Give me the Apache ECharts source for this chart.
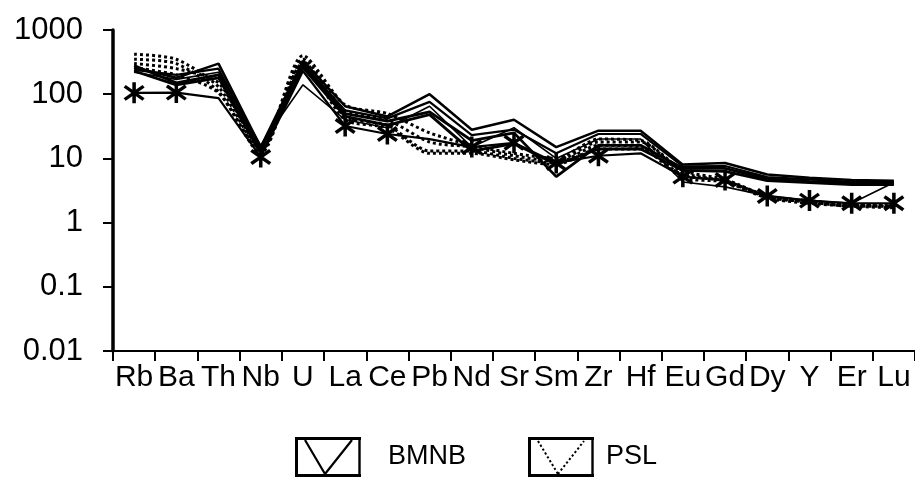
<!DOCTYPE html>
<html>
<head>
<meta charset="utf-8">
<script src="https://cdn.jsdelivr.net/npm/echarts@6.0.0/dist/echarts.min.js"></script>
<style>
  html, body { margin: 0; padding: 0; background: #fff; }
  #chart { width: 915px; height: 477px; }
</style>
</head>
<body>
<div id="chart"></div>
<script>
// 元素（横轴）
var elements = ['Rb', 'Ba', 'Th', 'Nb', 'U', 'La', 'Ce', 'Pb', 'Nd', 'Sr', 'Sm', 'Zr', 'Hf', 'Eu', 'Gd', 'Dy', 'Y', 'Er', 'Lu'];
var yTickLabels = ['0.01', '0.1', '1', '10', '100', '1000'];

// BMNB 样品（实线）
var bmnb1 = [260, 180, 300, 15, 330, 65, 45, 100, 28, 40, 15, 27, 27, 8, 8.5, 5.6, 5, 4.6, 4.5];
var bmnb2 = [240, 200, 250, 14, 300, 56, 42, 76, 23, 28, 12, 24, 24, 7.5, 7.6, 5.1, 4.7, 4.3, 4.3];
var bmnb3 = [280, 150, 200, 13, 280, 50, 38, 53, 19, 25, 5.2, 16, 16, 7, 7, 4.8, 4.4, 4.1, 4.1];
var bmnb4 = [230, 140, 180, 12, 260, 45, 33, 48, 13, 17, 8, 14, 14, 6.5, 6.3, 4.5, 4.2, 3.9, 3.9];
var bmnb5 = [220, 170, 220, 16, 140, 40, 30, 65, 15, 30, 10, 20, 20, 4.3, 3.6, 2.6, 2.2, 2.0, 4.2];

// PSL 样品（虚线）
var psl1 = [420, 350, 130, 14, 400, 68, 50, 25, 16, 12, 10, 20, 19, 6.5, 4.7, 2.6, 2.2, 1.9, 1.9];
var psl2 = [350, 300, 110, 13, 350, 55, 40, 18, 15, 11, 9, 18, 18, 6, 4.4, 2.5, 2.1, 1.9, 1.8];
var psl3 = [300, 250, 150, 15, 320, 45, 33, 13, 13, 10, 8.5, 16, 15, 5.5, 4.5, 2.5, 2.1, 1.8, 1.8];
var psl4 = [260, 200, 105, 12, 300, 40, 30, 12, 12, 9.5, 8, 14, 14, 5, 4.3, 2.4, 2.0, 1.8, 1.7];

// 参考曲线（星号）
var starLine = [105, 106, 87, 10.5, 230, 32, 24, 20, 15, 17.5, 8.5, 11, 12, 5.2, 4.6, 2.6, 2.2, 2.0, 2.0];
var starHidden = ['Th', 'U', 'Pb', 'Hf'];

// 线段 -> 多边形
function seg(x1, y1, x2, y2, t) {
    var dx = x2 - x1, dy = y2 - y1;
    var len = Math.sqrt(dx * dx + dy * dy);
    var nx = -dy / len * t / 2, ny = dx / len * t / 2;
    var p = [[x1 + nx, y1 + ny], [x2 + nx, y2 + ny], [x2 - nx, y2 - ny], [x1 - nx, y1 - ny]];
    return 'M' + p.map(function (q) { return q[0].toFixed(2) + ' ' + q[1].toFixed(2); }).join(' L') + ' Z ';
}

function starPath() {
    var s = '';
    s += seg(10, 0.5, 10, 19.5, 3);
    s += seg(2, 4, 18, 16, 3);
    s += seg(18, 4, 2, 16, 3);
    return 'path://' + s;
}

function dottedSeg(x1, y1, x2, y2) {
    var s = '';
    var dx = x2 - x1, dy = y2 - y1;
    var len = Math.sqrt(dx * dx + dy * dy);
    for (var d = 0; d < len - 1; d += 4.5) {
        var a = d / len, b = Math.min(d + 2.2, len) / len;
        s += seg(x1 + dx * a, y1 + dy * a, x1 + dx * b, y1 + dy * b, 2);
    }
    return s;
}

function boxIcon(dotted) {
    var s = '';
    s += seg(0, 1.5, 66, 1.5, 3);
    s += seg(0, 38.5, 66, 38.5, 3);
    s += seg(1.5, 0, 1.5, 40, 3);
    s += seg(64.5, 0, 64.5, 40, 2.4);
    if (dotted) {
        s += dottedSeg(10, 4, 30, 37);
        s += dottedSeg(30, 37, 56, 4);
    } else {
        s += seg(10, 3, 30, 37, 2.2);
        s += seg(30, 37, 57, 3, 2.2);
    }
    return 'path://' + s;
}

var solidSets = [bmnb1, bmnb2, bmnb3, bmnb4, bmnb5];
var solidWidths = [2.5, 2.2, 2.8, 2.8, 1.6];
var dottedSets = [psl1, psl2, psl3, psl4];

var series = [];
solidSets.forEach(function (arr, i) {
    series.push({
        name: 'BMNB',
        type: 'line',
        symbol: 'none',
        data: arr,
        lineStyle: { color: '#000', width: solidWidths[i] },
        itemStyle: { color: '#000' },
        z: 3
    });
});
dottedSets.forEach(function (arr) {
    series.push({
        name: 'PSL',
        type: 'line',
        symbol: 'none',
        smooth: 0.25,
        data: arr,
        lineStyle: { color: '#000', width: 3, type: [3, 3] },
        itemStyle: { color: '#000' },
        z: 2
    });
});
series.push({
    name: 'ref',
    type: 'line',
    symbol: starPath(),
    symbolSize: 21,
    data: starLine.map(function (v, i) {
        return starHidden.indexOf(elements[i]) >= 0 ? { value: v, symbol: 'none' } : v;
    }),
    lineStyle: { color: '#000', width: 2.2 },
    itemStyle: { color: '#000' },
    z: 4
});

var legendFont = '"Liberation Sans Narrow", "Arial Narrow", "Liberation Sans", Arial, sans-serif';

var myChart = echarts.init(document.getElementById('chart'), null, { renderer: 'canvas' });
var option = {
    animation: false,
    backgroundColor: '#fff',
    grid: { left: 113, top: 30, width: 804, height: 321, containLabel: false },
    legend: {
        left: 290,
        top: 432,
        itemWidth: 66,
        itemHeight: 40,
        itemGap: 62,
        selectedMode: false,
        data: [
            { name: 'BMNB', icon: boxIcon(false), textStyle: { padding: [0, 0, 0, 22] } },
            { name: 'PSL', icon: boxIcon(true), textStyle: { padding: [0, 0, 0, 7] } }
        ],
        itemStyle: { color: '#000', borderWidth: 0 },
        textStyle: {
            color: '#000',
            fontSize: 27,
            fontFamily: legendFont
        }
    },
    xAxis: {
        type: 'category',
        data: elements,
        boundaryGap: true,
        axisLine: { lineStyle: { color: '#000', width: 2 } },
        axisTick: { show: true, length: 10, lineStyle: { color: '#000', width: 2 } },
        axisLabel: {
            interval: 0,
            margin: 12,
            color: '#000',
            fontSize: 30,
            fontFamily: '"Liberation Sans", Arial, sans-serif'
        },
        splitLine: { show: false }
    },
    yAxis: {
        type: 'log',
        logBase: 10,
        min: 0.01,
        max: 1000,
        axisLine: { show: true, lineStyle: { color: '#000', width: 3.5 } },
        axisTick: { show: true, length: 10, lineStyle: { color: '#000', width: 2 } },
        axisLabel: {
            margin: 30,
            color: '#000',
            fontSize: 31,
            fontFamily: '"Liberation Sans", Arial, sans-serif',
            formatter: function (v, idx) { return yTickLabels[idx]; }
        },
        splitLine: { show: false }
    },
    series: series
};
myChart.setOption(option);
</script>
</body>
</html>
